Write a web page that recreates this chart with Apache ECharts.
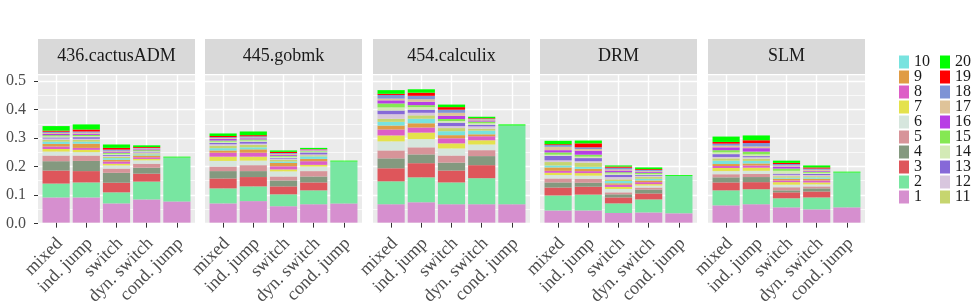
<!DOCTYPE html>
<html>
<head>
<meta charset="utf-8">
<script src="https://cdn.jsdelivr.net/npm/echarts@6/dist/echarts.min.js"></script>
<style>
  html, body { margin: 0; padding: 0; background: #fff; }
  #main { width: 979px; height: 308px; }
</style>
</head>
<body>
<div id="main"></div>
<script>
const benchmarks = ['436.cactusADM', '445.gobmk', '454.calculix', 'DRM', 'SLM'];
const variants = ['mixed', 'ind. jump', 'switch', 'dyn. switch', 'cond. jump'];
const blocks = ['1','2','3','4','5','6','7','8','9','10','11','12','13','14','15','16','17','18','19','20'];
const blockColors = [
  '#D68FCF', '#78E6A1', '#DE565B', '#84997F', '#D79499',
  '#D6E6DD', '#E4E24C', '#DD5EC7', '#E09C45', '#78E3DF',
  '#C6D56F', '#D8C6DE', '#8669D8', '#D3EAB5', '#85E853',
  '#B83DE5', '#DFC399', '#7E93D5', '#FF0000', '#00FF00'
];
const yTicks = [0, 0.1, 0.2, 0.3, 0.4, 0.5];

// one row per variant, one value per block (1..20)
const cactusADM = [
  [.089,.049,.046,.033,.020,.014,.009,.009,.009,.008,.006,.005,.004,.004,.004,.004,.004,.004,.004,.016],
  [.089,.053,.040,.036,.019,.012,.008,.007,.015,.007,.006,.004,.006,.004,.004,.004,.004,.004,.007,.018],
  [.068,.039,.034,.035,.015,.011,.006,.008,.006,.006,.004,.004,.003,.004,.004,.004,.003,.004,.006,.012],
  [.082,.063,.028,.021,.014,.012,.005,.006,.006,.004,.004,.003,.003,.002,.003,.003,.003,.002,.003,.006],
  [.075,.155,0,0,0,0,0,0,0,0,0,0,0,0,0,0,0,0,0,.003]
];
const gobmk = [
  [.068,.053,.035,.026,.016,.020,.015,.014,.008,.008,.009,.005,.005,.004,.004,.006,.003,.003,.004,.009],
  [.076,.052,.033,.021,.021,.016,.014,.014,.012,.007,.009,.004,.007,.004,.004,.004,.003,.004,.004,.013],
  [.058,.042,.028,.021,.014,.018,.007,.011,.012,.005,.006,.004,.003,.004,.003,.003,.004,.003,.004,.005],
  [.065,.049,.028,.021,.019,.016,.006,.013,.008,.009,.004,.003,.007,.003,.002,.002,.002,.002,.001,.004],
  [.068,.148,0,0,0,0,0,0,0,0,0,0,0,0,0,0,0,0,0,.003]
];
const calculix = [
  [.065,.081,.046,.035,.028,.032,.021,.021,.014,.013,.011,.016,.013,.011,.014,.011,.006,.013,.004,.013],
  [.072,.088,.050,.031,.025,.029,.023,.018,.015,.016,.012,.009,.011,.009,.007,.012,.009,.012,.011,.012],
  [.065,.077,.042,.028,.025,.025,.018,.018,.011,.014,.011,.007,.012,.006,.007,.011,.011,.011,.009,.009],
  [.065,.092,.046,.032,.021,.020,.015,.014,.007,.013,.007,.008,.006,.005,.006,.004,.004,.002,.002,.005],
  [.065,.278,0,0,0,0,0,0,0,0,0,0,0,0,0,0,0,0,0,.004]
];
const drm = [
  [.043,.053,.028,.018,.014,.012,.008,.007,.012,.007,.012,.006,.016,.004,.008,.008,.012,.006,.003,.012],
  [.043,.056,.028,.014,.014,.011,.009,.007,.008,.007,.015,.005,.011,.005,.007,.014,.006,.006,.014,.010],
  [.034,.034,.021,.011,.007,.012,.007,.008,.005,.008,.006,.008,.008,.005,.004,.006,.004,.006,.004,.004],
  [.036,.046,.021,.014,.007,.007,.005,.007,.006,.006,.006,.004,.003,.004,.004,.004,.003,.003,.003,.006],
  [.033,.132,0,0,0,0,0,0,0,0,0,0,0,0,0,0,0,0,0,.003]
];
const slm = [
  [.061,.053,.028,.018,.011,.011,.011,.007,.007,.012,.008,.005,.010,.006,.008,.010,.006,.007,.006,.019],
  [.065,.053,.025,.018,.011,.011,.011,.008,.007,.009,.008,.005,.004,.006,.010,.012,.006,.012,.010,.017],
  [.054,.032,.021,.007,.011,.009,.009,.006,.006,.004,.005,.005,.004,.010,.008,.007,.004,.005,.004,.008],
  [.047,.042,.021,.011,.007,.007,.007,.007,.006,.005,.004,.004,.004,.004,.004,.003,.004,.004,.004,.007],
  [.054,.123,0,0,0,0,0,0,0,0,0,0,0,0,0,0,0,0,0,.003]
];
const panelData = [cactusADM, gobmk, calculix, drm, slm];

// layout (px)
const font = "'Liberation Serif', serif";
const panelLeft = [38, 205, 373, 540, 708];
const panelW = 157;
const panelTop = 74;
const panelH = 149.3;
const yMax = 0.525;
const pad = panelW / 5.2 * 0.1;   // ggplot discrete expansion: 0.6 of a band each side

// helper axis on the background grid: points every 0.2 band, vertical lines at band centres
const gridSteps = Array.from({ length: 27 }, (_, i) => i);
const centreLine = i => (i - 3) % 5 === 0 && i >= 3;

let chart = echarts.init(document.getElementById('main'));

let grids = [], xAxes = [], yAxes = [], titles = [], series = [];

benchmarks.forEach((name, p) => {
  let bg = p * 2, bars = p * 2 + 1;
  // background panel with grid lines
  grids.push({ left: panelLeft[p], top: panelTop, width: panelW, height: panelH,
    show: true, backgroundColor: '#EBEBEB', borderWidth: 0 });
  // bars
  grids.push({ left: panelLeft[p] + pad, top: panelTop, width: panelW - 2 * pad, height: panelH });

  xAxes.push({
    type: 'category', gridIndex: bg, data: gridSteps, boundaryGap: false,
    axisLine: { show: false }, axisTick: { show: false }, axisLabel: { show: false },
    splitLine: { show: true, interval: centreLine, lineStyle: { color: '#fff', width: 1.4 } }
  });
  yAxes.push({
    type: 'value', gridIndex: bg, min: 0, max: yMax, interval: 0.1,
    axisLine: { show: false },
    axisTick: { show: p === 0, length: 4, lineStyle: { color: '#333' } },
    axisLabel: { show: p === 0, margin: 12, color: '#4D4D4D', fontSize: 16, fontFamily: font,
      showMaxLabel: false,
      formatter: v => yTicks.some(t => Math.abs(t - v) < 1e-9) ? v.toFixed(1) : '' },
    splitLine: { lineStyle: { color: '#fff', width: 1.4 } },
    minorTick: { show: false, splitNumber: 2 },
    minorSplitLine: { show: true, lineStyle: { color: '#fff', width: 0.7 } }
  });

  xAxes.push({
    type: 'category', gridIndex: bars, data: variants,
    axisLine: { show: false },
    axisTick: { show: true, alignWithLabel: true, length: 5, lineStyle: { color: '#333' } },
    axisLabel: { interval: 0, rotate: 45, margin: 9, align: 'right', verticalAlign: 'top',
      padding: [0, 4, 0, 0], color: '#4D4D4D', fontSize: 18, fontFamily: font },
    splitLine: { show: false }
  });
  yAxes.push({ type: 'value', gridIndex: bars, min: 0, max: yMax, show: false });

  titles.push({
    left: panelLeft[p], top: 39, padding: 0,
    text: '{s|' + name + '}',
    textStyle: {
      fontWeight: 'normal',
      rich: { s: { width: panelW, height: 35, lineHeight: 35, align: 'center', fontWeight: 'normal',
        backgroundColor: '#D9D9D9', color: '#1A1A1A', fontSize: 18, fontFamily: font } }
    }
  });

  blocks.forEach((b, k) => {
    series.push({
      type: 'bar', name: b, stack: 'panel' + p,
      xAxisIndex: bars, yAxisIndex: bars,
      barWidth: '90%',
      itemStyle: { color: blockColors[k] },
      data: variants.map((v, i) => panelData[p][i][k])
    });
  });
});

let legendCommon = {
  orient: 'vertical', top: 54, padding: 0, itemWidth: 10, itemHeight: 13, itemGap: -1,
  icon: 'rect', selectedMode: false,
  textStyle: { fontSize: 16, color: '#1A1A1A', fontFamily: font }
};

let option = {
  animation: false,
  backgroundColor: '#fff',
  title: titles,
  grid: grids,
  xAxis: xAxes,
  yAxis: yAxes,
  legend: [
    Object.assign({ left: 899, data: blocks.slice(0, 10).reverse() }, legendCommon),
    Object.assign({ left: 940, data: blocks.slice(10).reverse() }, legendCommon)
  ],
  series: series
};
chart.setOption(option);
</script>
</body>
</html>
